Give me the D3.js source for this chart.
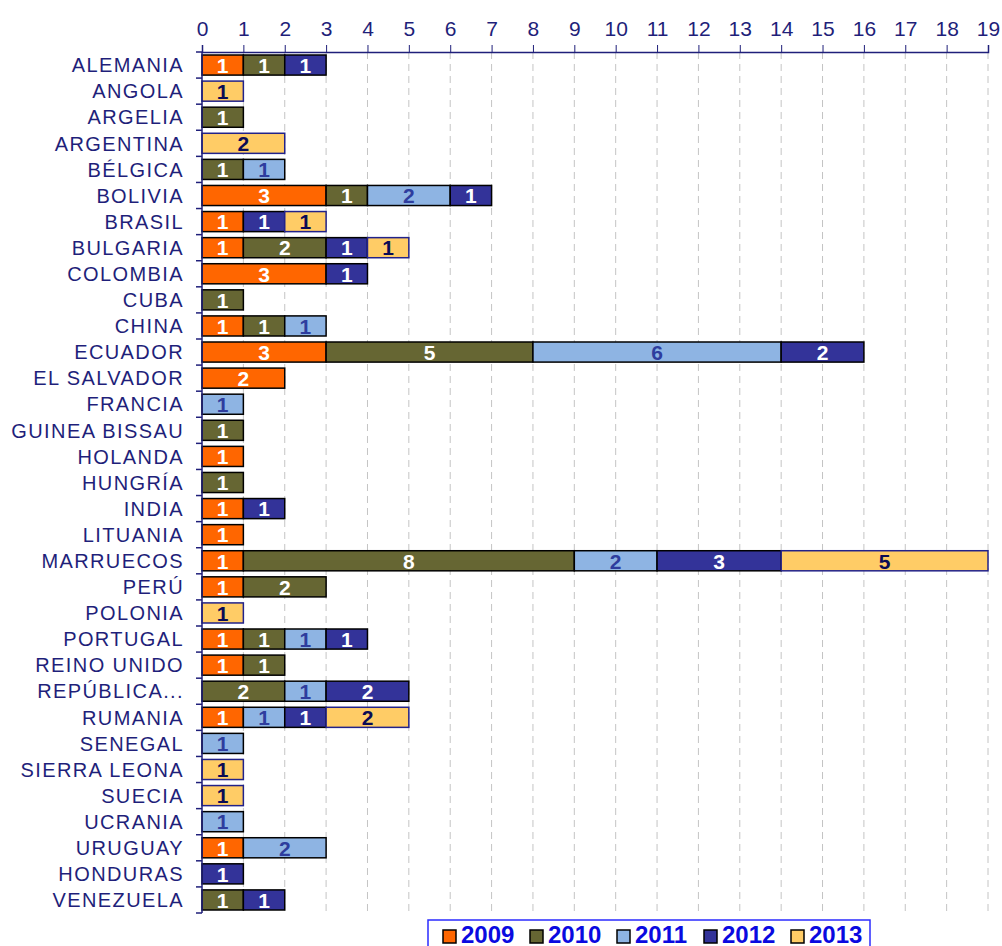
<!DOCTYPE html>
<html>
<head>
<meta charset="utf-8">
<script src="https://cdn.jsdelivr.net/npm/d3@7"></script>
<style>
  body { margin: 0; background: #fff; }
  svg { display: block; font-family: "Liberation Sans", Arial, sans-serif; }
</style>
</head>
<body>
<div id="chart"></div>
<script>
// Countries, top to bottom
const countries = ["ALEMANIA", "ANGOLA", "ARGELIA", "ARGENTINA", "BÉLGICA", "BOLIVIA", "BRASIL",
  "BULGARIA", "COLOMBIA", "CUBA", "CHINA", "ECUADOR", "EL SALVADOR", "FRANCIA", "GUINEA BISSAU",
  "HOLANDA", "HUNGRÍA", "INDIA", "LITUANIA", "MARRUECOS", "PERÚ", "POLONIA", "PORTUGAL",
  "REINO UNIDO", "REPÚBLICA...", "RUMANIA", "SENEGAL", "SIERRA LEONA", "SUECIA", "UCRANIA",
  "URUGUAY", "HONDURAS", "VENEZUELA"];

const years = ["2009", "2010", "2011", "2012", "2013"];

// one value per country, same order as above
const v2009 = [1,0,0,0,0,3,1,1,3,0,1,3,2,0,0,1,0,1,1,1,1,0,1,1,0,1,0,0,0,0,1,0,0];
const v2010 = [1,0,1,0,1,1,0,2,0,1,1,5,0,0,1,0,1,0,0,8,2,0,1,1,2,0,0,0,0,0,0,0,1];
const v2011 = [0,0,0,0,1,2,0,0,0,0,1,6,0,1,0,0,0,0,0,2,0,0,1,0,1,1,1,0,0,1,2,0,0];
const v2012 = [1,0,0,0,0,1,1,1,1,0,0,2,0,0,0,0,0,1,0,3,0,0,1,0,2,1,0,0,0,0,0,1,1];
const v2013 = [0,1,0,2,0,0,1,1,0,0,0,0,0,0,0,0,0,0,0,5,0,1,0,0,0,2,0,1,1,0,0,0,0];

const xTicks = d3.range(0, 20);

const colors = { "2009": "#ff6600", "2010": "#666633", "2011": "#8eb4e3", "2012": "#333399", "2013": "#ffcc66" };
const strokes = { "2009": "#000", "2010": "#000", "2011": "#000", "2012": "#000", "2013": "#22228a" };
const labelColors = { "2009": "#fff", "2010": "#fff", "2011": "#2e3d9e", "2012": "#fff", "2013": "#0b0b55" };
const navy = "#1f1f7a";

const table = countries.map((c, i) => ({
  country: c, "2009": v2009[i], "2010": v2010[i], "2011": v2011[i], "2012": v2012[i], "2013": v2013[i]
}));
const series = d3.stack().keys(years)(table);

const width = 1002, height = 946;
const margin = { top: 52, left: 202, right: 14, bottom: 33 };

const svg = d3.select("#chart").append("svg")
  .attr("width", width).attr("height", height);

const x = d3.scaleLinear().domain([0, 19]).range([margin.left, width - margin.right]);
const y = d3.scaleBand().domain(countries)
  .range([margin.top, height - margin.bottom])
  .paddingInner(0.23).paddingOuter(0.115);

// dashed gridlines
svg.append("g")
  .selectAll("line")
  .data(xTicks.slice(1))
  .join("line")
  .attr("x1", d => x(d)).attr("x2", d => x(d))
  .attr("y1", margin.top).attr("y2", height - margin.bottom)
  .attr("stroke", "#c4c4c4")
  .attr("stroke-width", 1)
  .attr("stroke-dasharray", "7,5");

// bars
const layer = svg.append("g").selectAll("g")
  .data(series)
  .join("g");

layer.selectAll("rect")
  .data(s => s.map(d => ({ key: s.key, d })).filter(o => o.d[1] > o.d[0]))
  .join("rect")
  .attr("x", o => x(o.d[0]))
  .attr("y", o => y(o.d.data.country))
  .attr("width", o => x(o.d[1]) - x(o.d[0]))
  .attr("height", y.bandwidth())
  .attr("fill", o => colors[o.key])
  .attr("stroke", o => strokes[o.key])
  .attr("stroke-width", 1.5);

layer.selectAll("text")
  .data(s => s.map(d => ({ key: s.key, d })).filter(o => o.d[1] > o.d[0]))
  .join("text")
  .attr("x", o => (x(o.d[0]) + x(o.d[1])) / 2)
  .attr("y", o => y(o.d.data.country) + y.bandwidth() / 2)
  .attr("dy", "0.37em")
  .attr("text-anchor", "middle")
  .attr("font-size", 21)
  .attr("font-weight", "bold")
  .attr("fill", o => labelColors[o.key])
  .text(o => o.d[1] - o.d[0]);

// top axis
svg.append("g")
  .attr("transform", `translate(0,${margin.top})`)
  .call(d3.axisTop(x).tickValues(xTicks).tickFormat(d3.format("d")).tickSize(7).tickPadding(9))
  .call(g => g.select(".domain").attr("stroke", navy).attr("stroke-width", 1.5))
  .call(g => g.selectAll(".tick line").attr("stroke", navy))
  .call(g => g.selectAll(".tick text")
    .attr("fill", navy)
    .attr("font-size", 21)
    .style("font-family", "'Liberation Sans', Arial, sans-serif"));

// left axis with ticks between categories
const step = y.step();
const yAxis = svg.append("g");
yAxis.append("line")
  .attr("x1", margin.left).attr("x2", margin.left)
  .attr("y1", margin.top).attr("y2", height - margin.bottom)
  .attr("stroke", navy).attr("stroke-width", 1.5);
yAxis.selectAll("line.tk")
  .data(d3.range(countries.length + 1))
  .join("line")
  .attr("class", "tk")
  .attr("x1", margin.left - 6).attr("x2", margin.left)
  .attr("y1", i => margin.top + i * step).attr("y2", i => margin.top + i * step)
  .attr("stroke", navy).attr("stroke-width", 1.5);
yAxis.selectAll("text")
  .data(countries)
  .join("text")
  .attr("x", 184)
  .attr("y", d => y(d) + y.bandwidth() / 2)
  .attr("dy", "0.36em")
  .attr("text-anchor", "end")
  .attr("font-size", 20)
  .attr("letter-spacing", 1.4)
  .attr("fill", navy)
  .text(d => d);

// legend (cut by the bottom edge, as in the original)
const legend = svg.append("g").attr("transform", "translate(428,920)");
legend.append("rect")
  .attr("width", 442).attr("height", 32)
  .attr("fill", "#fff").attr("stroke", "#2b2bff").attr("stroke-width", 1.5);
const item = legend.selectAll("g.item")
  .data(years)
  .join("g")
  .attr("class", "item")
  .attr("transform", (d, i) => `translate(${15 + i * 87},0)`);
item.append("rect")
  .attr("x", 0).attr("y", 10).attr("width", 13).attr("height", 13)
  .attr("fill", d => colors[d]).attr("stroke", "#000").attr("stroke-width", 1.5);
item.append("text")
  .attr("x", 18).attr("y", 23)
  .attr("font-size", 24).attr("font-weight", "bold")
  .attr("fill", "#0a0ae0")
  .text(d => d);
</script>
</body>
</html>
